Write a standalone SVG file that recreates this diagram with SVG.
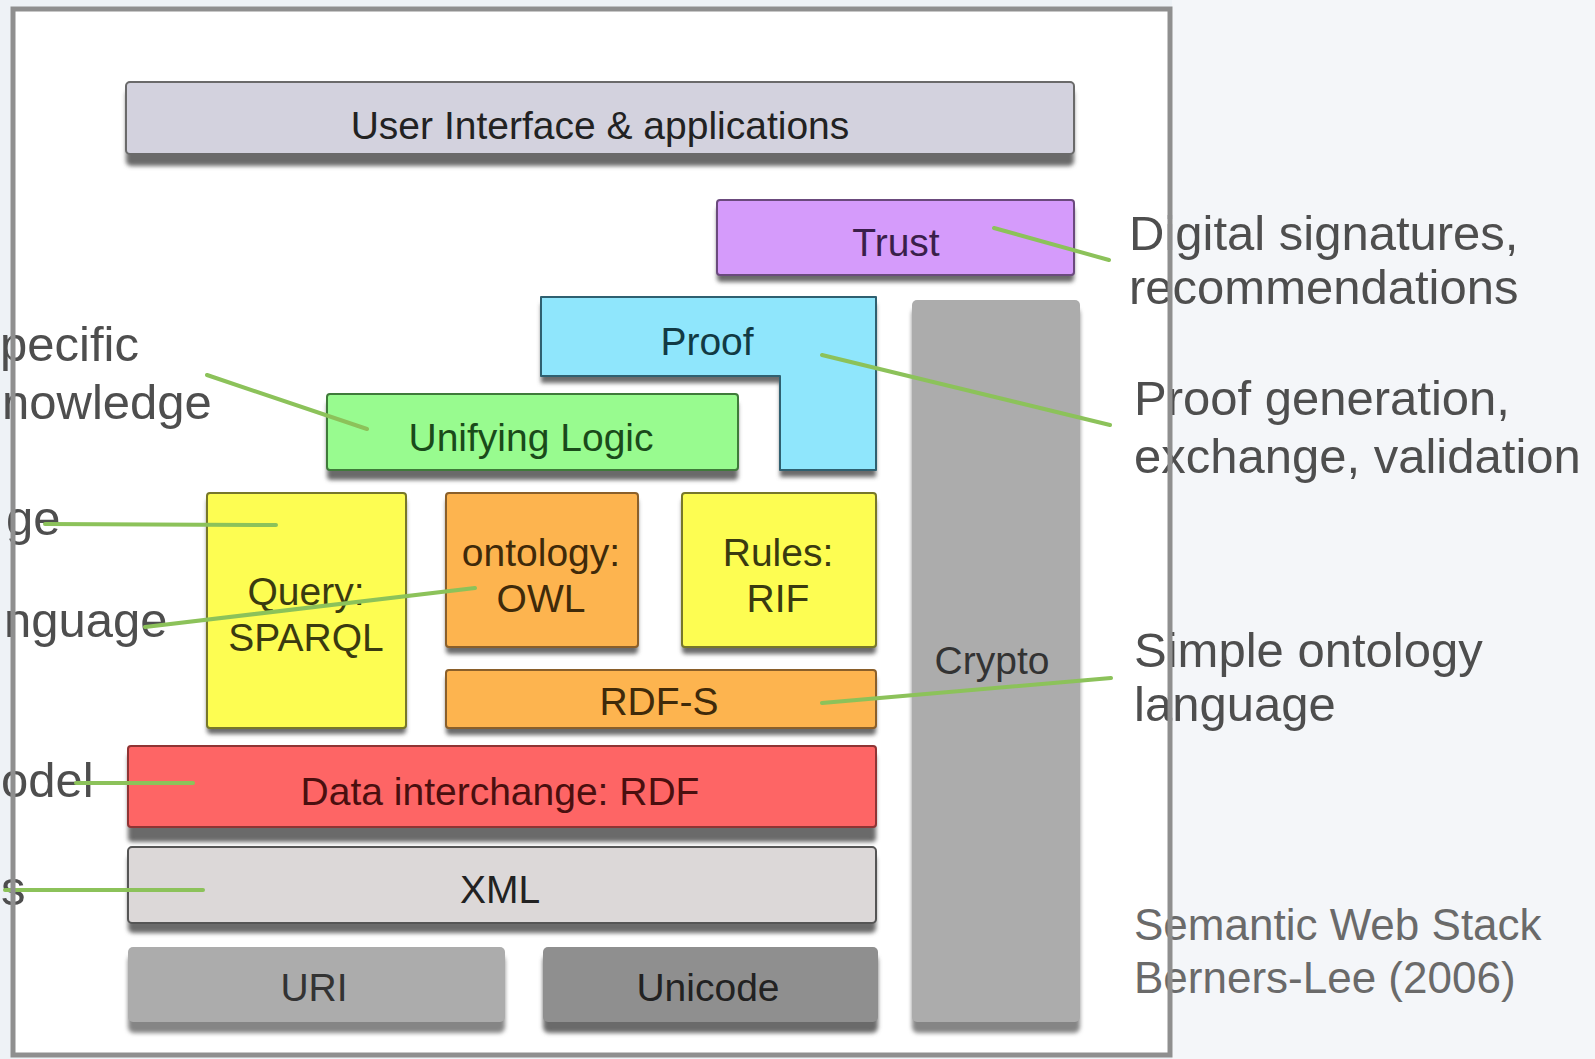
<svg xmlns="http://www.w3.org/2000/svg" width="1595" height="1059" viewBox="0 0 1595 1059">
<defs>
<style>
.lbl{font-family:"Liberation Sans",Arial,sans-serif;font-size:39px;text-anchor:middle;fill:#222}
.side{font-family:"Liberation Sans",Arial,sans-serif;font-size:49px;fill:#4e4e4e}
.cap{font-family:"Liberation Sans",Arial,sans-serif;font-size:44px;fill:#6a6a6a}
.conn{stroke:#8cc25a;stroke-width:4;stroke-linecap:round;fill:none}
.sh{fill:#6b6b6b;filter:url(#blur)}
.shl{fill:#858585;filter:url(#blur)}
</style>
<filter id="blur" x="-10%" y="-20%" width="120%" height="140%"><feGaussianBlur stdDeviation="2"/></filter>
</defs>
<rect x="0" y="0" width="1595" height="1059" fill="#eef2f6"/>
<rect x="1172" y="0" width="423" height="1059" fill="#f4f6f9"/>
<rect x="13" y="9" width="1157" height="1046" fill="#ffffff"/>

<g id="side-labels">
<text class="side" x="0" y="361">pecific</text>
<text class="side" x="2" y="419">nowledge</text>
<text class="side" x="6" y="535">ge</text>
<text class="side" x="4" y="637">nguage</text>
<text class="side" x="1" y="797">odel</text>
<text class="side" x="1" y="905">s</text>
<text class="side" x="1129" y="250">Digital signatures,</text>
<text class="side" x="1129" y="304">recommendations</text>
<text class="side" x="1134" y="415">Proof generation,</text>
<text class="side" x="1134" y="473">exchange, validation</text>
<text class="side" x="1134" y="667">Simple ontology</text>
<text class="side" x="1134" y="721">language</text>
<text class="cap" x="1134" y="940">Semantic Web Stack</text>
<text class="cap" x="1134" y="993">Berners-Lee (2006)</text>
</g>

<g id="ui">
<rect class="sh" x="126" y="90" width="948" height="76" rx="5"/>
<rect x="126" y="82" width="948" height="72" rx="4" fill="#d3d2de" stroke="#6a6a6a" stroke-width="2"/>
<text class="lbl" x="600" y="139" fill="#2a2a2a">User Interface &amp; applications</text>
</g>

<g id="trust">
<rect class="sh" x="717" y="207" width="357" height="75" rx="4"/>
<rect x="717" y="200" width="357" height="75" rx="3" fill="#d59bfb" stroke="#6b4a7d" stroke-width="2"/>
<text class="lbl" x="896" y="256" style="fill:#3a1f4a">Trust</text>
</g>

<g id="crypto">
<rect class="shl" x="912" y="308" width="168" height="725" rx="6"/>
<rect x="912" y="300" width="168" height="722" rx="5" fill="#acacac"/>
<text class="lbl" x="992" y="674" style="fill:#333">Crypto</text>
</g>

<g id="proof">
<path class="sh" d="M541,304 H876 V477 H780 V383 H541 Z"/>
<path d="M541,297 H876 V470 H780 V376 H541 Z" fill="#8fe6fc" stroke="#2f6070" stroke-width="2" stroke-linejoin="round"/>
<text class="lbl" x="707" y="355" style="fill:#123a44">Proof</text>
</g>

<g id="logic">
<rect class="sh" x="327" y="402" width="411" height="78" rx="4"/>
<rect x="327" y="394" width="411" height="76" rx="3" fill="#98fb8f" stroke="#3f7a3a" stroke-width="2"/>
<text class="lbl" x="531" y="451" style="fill:#1a4a1a">Unifying Logic</text>
</g>

<g id="query">
<rect class="sh" x="207" y="499" width="199" height="235" rx="4"/>
<rect x="207" y="493" width="199" height="235" rx="3" fill="#fdfd52" stroke="#77772a" stroke-width="2"/>
<text class="lbl" x="306" y="605" style="fill:#3a3a10">Query:</text>
<text class="lbl" x="306" y="651" style="fill:#3a3a10">SPARQL</text>
</g>

<g id="owl">
<rect class="sh" x="446" y="499" width="192" height="155" rx="4"/>
<rect x="446" y="493" width="192" height="154" rx="3" fill="#fdb44f" stroke="#8a5f2a" stroke-width="2"/>
<text class="lbl" x="541" y="566" style="fill:#3f2a0a">ontology:</text>
<text class="lbl" x="541" y="612" style="fill:#3f2a0a">OWL</text>
</g>

<g id="rules">
<rect class="sh" x="682" y="499" width="194" height="155" rx="4"/>
<rect x="682" y="493" width="194" height="154" rx="3" fill="#fdfd52" stroke="#77772a" stroke-width="2"/>
<text class="lbl" x="778" y="566" style="fill:#3a3a10">Rules:</text>
<text class="lbl" x="778" y="612" style="fill:#3a3a10">RIF</text>
</g>

<g id="rdfs">
<rect class="sh" x="446" y="676" width="430" height="59" rx="4"/>
<rect x="446" y="670" width="430" height="58" rx="3" fill="#fdb44f" stroke="#8a5f2a" stroke-width="2"/>
<text class="lbl" x="659" y="715" style="fill:#3f2a0a">RDF-S</text>
</g>

<g id="rdf">
<rect class="sh" x="128" y="754" width="748" height="88" rx="4"/>
<rect x="128" y="746" width="748" height="81" rx="3" fill="#fe6565" stroke="#8f3434" stroke-width="2"/>
<text class="lbl" x="500" y="805" style="fill:#4a0f0f">Data interchange: RDF</text>
</g>

<g id="xml">
<rect class="sh" x="128" y="855" width="748" height="78" rx="5"/>
<rect x="128" y="847" width="748" height="76" rx="4" fill="#dcd8d8" stroke="#555" stroke-width="2"/>
<text class="lbl" x="500" y="903" style="fill:#222">XML</text>
</g>

<g id="uri">
<rect class="shl" x="128" y="955" width="377" height="78" rx="6"/>
<rect x="128" y="947" width="377" height="75" rx="5" fill="#acacac"/>
<text class="lbl" x="314" y="1001" style="fill:#333">URI</text>
</g>

<g id="unicode">
<rect class="sh" x="543" y="955" width="335" height="78" rx="6"/>
<rect x="543" y="947" width="335" height="75" rx="5" fill="#8f8f8f"/>
<text class="lbl" x="708" y="1001" style="fill:#222">Unicode</text>
</g>

<g id="connectors">
<line class="conn" x1="994" y1="228" x2="1109" y2="260"/>
<line class="conn" x1="822" y1="355" x2="1110" y2="425"/>
<line class="conn" x1="207" y1="375" x2="367" y2="429"/>
<line class="conn" x1="45" y1="524" x2="276" y2="525"/>
<line class="conn" x1="145" y1="627" x2="475" y2="588"/>
<line class="conn" x1="76" y1="783" x2="193" y2="783"/>
<line class="conn" x1="5" y1="890" x2="203" y2="890"/>
<line class="conn" x1="822" y1="703" x2="1111" y2="678"/>
</g>

<rect x="13" y="9" width="1157" height="1046" fill="none" stroke="#8f8f8f" stroke-width="5"/>
</svg>
